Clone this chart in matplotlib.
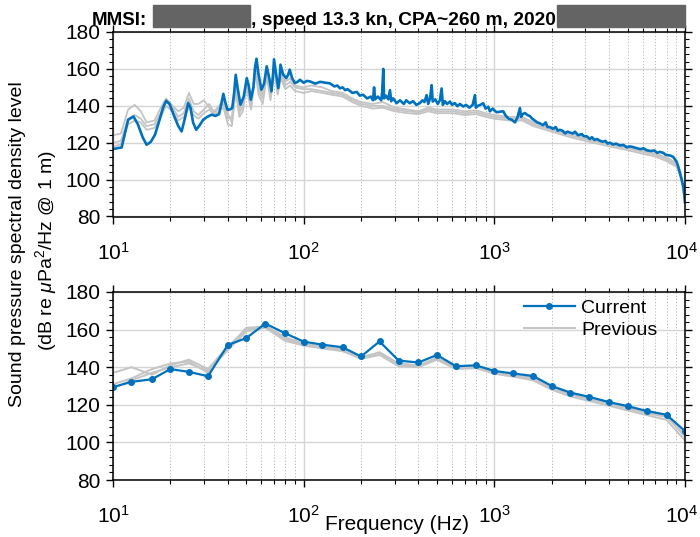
import matplotlib
matplotlib.use('Agg')
import matplotlib.pyplot as plt
import matplotlib.transforms as mtransforms
from matplotlib.ticker import LogLocator, NullFormatter, FixedLocator, MultipleLocator
from matplotlib.patches import Rectangle

plt.rcParams['font.family'] = ['Liberation Sans', 'DejaVu Sans']
plt.rcParams['mathtext.fontset'] = 'custom'
plt.rcParams['mathtext.rm'] = 'Liberation Sans'
plt.rcParams['mathtext.it'] = 'Liberation Sans:italic'

# ---------------- data: narrowband spectrum (top panel) ----------------
cur_freq = [10, 10.5, 11.1, 11.6, 12.0, 12.8, 13.5, 14.3, 15.0, 15.8, 16.6, 17.5, 18.3, 19.0, 19.8,
            21.0, 22.0, 22.9, 23.8, 24.8, 25.5, 26.3, 27.3, 28.5, 29.7, 31.2, 32.9, 34.5, 36.0, 37.0,
            37.9, 38.8, 39.8, 41.0, 42.2, 43.2, 44.0, 45.0, 46.6, 48.5, 50.3, 51.5, 52.8, 54.5, 55.6,
            56.6, 57.8, 60.0, 62.0, 64.0, 66.0, 67.8, 69.0, 69.9, 71.5, 73.6, 74.8, 75.6, 78.0, 81.1,
            83.0, 84.5, 87.0, 89.9, 93.0, 95.6, 100, 104, 108, 115, 122, 130, 137, 145, 150, 155, 160,
            165, 170, 180, 190, 197, 205, 215, 225, 231, 234, 237, 245, 255, 258, 261.5, 264, 270,
            278, 283.5, 288, 295, 307, 320, 335, 345, 360, 375, 390, 407, 420, 430, 441.6, 450, 460,
            469, 475, 490, 505, 518, 529, 537, 550, 565, 585, 600, 620, 640, 660, 687, 710, 740, 770,
            791, 800, 820, 845, 874, 900, 930, 948, 980, 1000, 1030, 1069, 1114, 1150, 1190, 1230,
            1283, 1320, 1363, 1380, 1410, 1446, 1490, 1537, 1580, 1630, 1680, 1734, 1800, 1860, 1900,
            1958, 2030, 2100, 2150, 2208, 2280, 2350, 2420, 2490, 2580, 2650, 2750, 2870, 2950, 3050,
            3170, 3250, 3350, 3450, 3578, 3700, 3820, 3930, 4037, 4200, 4350, 4557, 4750, 4950, 5150,
            5350, 5600, 5850, 6050, 6290, 6600, 6900, 7150, 7390, 7700, 7900, 8160, 8400, 8670, 8850,
            9040, 9250, 9400, 9600, 9790, 9920, 10000]
cur_level = [116.6, 117, 117.4, 126, 132.4, 134.2, 130, 123, 118.9, 120.5, 124.3, 132, 139, 142.7, 141,
             134, 129, 126.1, 133, 141.5, 139, 131, 127, 129.5, 132.4, 134, 135.2, 134.5, 135.5, 141,
             146.5, 142, 137.9, 138, 138.8, 147, 156.8, 150, 140.6, 145, 155, 151, 143.3, 150, 161,
             165.5, 158, 148.7, 152, 161.4, 155, 147.8, 156, 165.2, 158, 149.6, 155, 162.3, 157, 155,
             157, 159.6, 155, 152.3, 153, 154.1, 152.5, 153.5, 153.2, 152, 153, 152.5, 152.2, 150.5, 151, 149.5, 150,
             148.5, 149, 147, 147.5, 145.5, 146, 144, 145, 143, 150, 143.5, 145, 143, 147, 160, 144, 145.5,
             143.5, 148.5, 142.5, 144, 141.4, 143, 141, 143, 141.4, 142.5, 140.5, 141.5, 143, 142, 145.8, 141, 144,
             151.2, 142.3, 143.5, 141, 143, 149.4, 140.5, 142.5, 141, 142.3, 140.5, 141.5, 139.8, 141, 139.6, 140.5, 139, 140.5,
             145.8, 139, 140, 140.5, 141.4, 138.5, 139.5, 137, 138.5, 137.5, 136.5, 136.8, 137, 134.5, 133, 132.5,
             131, 133.5, 138.8, 134, 135.5, 136.1, 135, 134.4, 133, 132, 131, 130.5, 129.5, 131, 128.5,
             128.5, 127.5, 128.5, 126.5, 127, 126.5, 125, 126, 125.5, 125, 126, 124, 124.7, 123.5, 123.5,
             122, 123, 121.5, 122, 121.1, 120.5, 121, 119.5, 120, 119, 119.5, 118.5, 118.8, 117.5, 118,
             117.6, 117, 116.5, 117, 115.9, 115.5, 115.8, 114.5, 115, 114.5, 113.5, 113.2, 113, 112.3, 111,
             109.7, 106.5, 103.5, 100, 96.5, 92, 87.7]

prev_freq = [10, 11, 12, 13, 14, 15, 16.5, 18, 19, 20.5, 22, 23.5, 25, 26.5, 28, 30, 32, 34, 36, 38, 40,
             42, 44, 46, 48, 50, 53, 56, 58, 61, 64, 67, 70, 73, 76, 80, 85, 90, 100, 110, 125, 140, 160,
             180, 200, 230, 260, 300, 350, 400, 450, 500, 600, 700, 800, 900, 1000, 1200, 1400, 1600,
             2000, 2500, 3000, 4000, 5000, 6000, 7000, 8000, 9000, 9500, 10000]
prev_level_1 = [124, 125, 138, 140.5, 137, 131, 132, 140, 144, 140, 137, 139, 147, 141, 141, 143, 139, 137,
                140, 143, 136, 131, 149, 138, 143, 152, 142, 160, 150, 146, 158, 147, 162, 150, 158, 153,
                155, 151, 150, 151, 150, 148, 147, 144, 142, 141, 142, 139, 138, 137, 139, 138, 138, 137,
                137.5, 136, 135, 134, 134, 131, 128, 125, 123, 120, 118, 116, 114, 112, 109, 104, 89]
prev_level_2 = [120, 121, 133, 135, 133, 129, 130, 137, 142, 139, 134, 136, 144, 137, 135, 138, 141, 136,
                139, 141, 133, 134, 152, 136, 140, 153, 140, 162, 148, 144, 159, 145, 163, 148, 157, 151,
                153, 150, 149, 149, 148, 147, 146, 143, 141, 140, 140, 138, 137, 136.5, 138, 137, 137, 136,
                136.5, 135, 134, 133, 133, 130, 127, 124, 122, 119, 117, 115, 113.5, 111, 108, 103, 88]
prev_level_3 = [118, 119, 130, 132, 131, 127, 128, 135, 140, 137, 132, 134, 139, 135, 133, 136, 138, 135,
                137, 139, 130, 129, 148, 134, 137, 150, 138, 158, 146, 141, 156, 143, 160, 146, 155, 149,
                151, 148, 147, 148, 147, 146, 145, 142, 140, 138.5, 139, 137, 136, 135.5, 137, 136, 136, 135,
                135.5, 134, 133, 132, 132, 129, 126, 123, 121, 118, 116, 114, 112.5, 110, 107, 102, 87]

# ---------------- data: third-octave bands (bottom panel) ----------------
band_freq = [10, 12.5, 16, 20, 25, 31.5, 40, 50, 63, 80, 100, 125, 160, 200, 250, 315, 400, 500, 630,
             800, 1000, 1250, 1600, 2000, 2500, 3150, 4000, 5000, 6300, 8000, 10000]
band_current = [129.4, 132.2, 133.6, 139, 137.5, 135.2, 151.8, 155.5, 163.2, 158, 153.6, 152, 150.6,
                145.7, 153.7, 143.5, 142.5, 146.5, 140.5, 141, 138, 136.7, 135.3, 130, 126.5, 124.2,
                121.4, 119.3, 116.7, 114.7, 106]
band_prev_1 = [137, 140, 136, 141, 144, 139, 151, 160, 162, 156, 152.5, 151, 149.5, 145, 148, 142, 141,
               145, 140, 140, 137, 135.5, 134, 129, 125.5, 123, 120.5, 118, 115.5, 113.5, 104]
band_prev_2 = [131, 134, 139, 142, 143, 137, 150, 161, 161.5, 155, 152, 150.5, 149, 145.5, 147.5, 141.5,
               140.5, 144.5, 139.5, 140.5, 137.5, 136, 134.5, 129.5, 126.5, 124, 121.5, 119, 116.5, 114, 103]
band_prev_3 = [129, 133, 137, 140, 142, 138, 149, 159, 161, 154, 151.5, 150, 148.5, 144.5, 146.5, 140.5,
               140, 144, 139, 139.5, 136.5, 135, 133, 128, 124.5, 122, 119.5, 117, 114.5, 112, 101]

x_ticks = [10, 100, 1000, 10000]
x_ticklabels = [r'$10^{1}$', r'$10^{2}$', r'$10^{3}$', r'$10^{4}$']
y_ticks = [80, 100, 120, 140, 160, 180]

BLUE = '#0072BD'
GRAY = '#c4c4c4'

W, H = 700, 537
fig = plt.figure(figsize=(7.0, 5.37), dpi=100)


def ax_rect(l, t, r, b):
    return [l / W, 1 - b / H, (r - l) / W, (b - t) / H]


ax1 = fig.add_axes(ax_rect(113, 32, 685, 216.5))
ax2 = fig.add_axes(ax_rect(113, 292, 685, 480))

for ax in (ax1, ax2):
    ax.set_xscale('log')
    ax.set_xlim(10, 1e4)
    ax.set_ylim(80, 180)
    ax.set_yticks(y_ticks)
    ax.yaxis.set_minor_locator(MultipleLocator(4))
    ax.xaxis.set_major_locator(FixedLocator(x_ticks))
    ax.set_xticklabels(x_ticklabels)
    ax.xaxis.set_minor_locator(LogLocator(base=10, subs=range(2, 10)))
    ax.xaxis.set_minor_formatter(NullFormatter())
    ax.tick_params(which='both', direction='out', top=True, right=True, labelsize=15, color='black')
    ax.tick_params(which='major', length=5, width=1.0)
    ax.tick_params(which='minor', length=3, width=0.8)
    ax.tick_params(axis='x', which='major', pad=13)
    ax.tick_params(axis='y', which='major', pad=4)
    ax.xaxis.grid(True, which='major', color='#d5d5d5', lw=1.0, ls='-')
    ax.yaxis.grid(True, which='major', color='#d5d5d5', lw=1.0, ls='-')
    ax.xaxis.grid(True, which='minor', color='#b5b5b5', lw=0.7, ls=(0, (1.2, 2.0)))
    ax.set_axisbelow(True)
    for s in ax.spines.values():
        s.set_linewidth(1.1)
    # keep the last label inside the canvas
    last = ax.get_xticklabels()[-1]
    last.set_transform(last.get_transform() +
                       mtransforms.ScaledTranslation(-3 / 100, 0, fig.dpi_scale_trans))

# top panel
for lv in (prev_level_1, prev_level_2, prev_level_3):
    ax1.plot(prev_freq, lv, color=GRAY, lw=1.3)
ax1.plot(cur_freq, cur_level, color=BLUE, lw=1.9)

# bottom panel
for i, lv in enumerate((band_prev_1, band_prev_2, band_prev_3)):
    ax2.plot(band_freq, lv, color=GRAY, lw=1.4, label='Previous' if i == 0 else None)
ax2.plot(band_freq, band_current, color=BLUE, lw=1.6, marker='o', ms=4, label='Current')
h, l = ax2.get_legend_handles_labels()
ax2.legend([h[1], h[0]], [l[1], l[0]], loc='upper left',
           bbox_to_anchor=((524 - 113) / 572, 1 - (299 - 292) / 188),
           frameon=False, fontsize=14, handlelength=2.6, handletextpad=0.35,
           labelspacing=0.25, borderpad=0, borderaxespad=0)

# y label (two lines)
fig.text(18 / W, 1 - 244 / H, 'Sound pressure spectral density level', rotation=90,
         ha='center', va='center', fontsize=14)
fig.text(46 / W, 1 - 250 / H, r'(dB re $\mu$Pa$^2$/Hz @ 1 m)', rotation=90,
         ha='center', va='center', fontsize=14)

# x label
fig.text(397 / W, 1 - 525 / H, 'Frequency (Hz)', ha='center', va='center', fontsize=15)

# title with redacted parts
fig.text(92 / W, 1 - 25 / H, 'MMSI:', ha='left', va='baseline', fontsize=13.5, fontweight='bold')
fig.text(251 / W, 1 - 25 / H, ', speed 13.3 kn, CPA~260 m, 2020', ha='left', va='baseline',
         fontsize=13.8, fontweight='bold')
for (x0, x1) in ((153, 250), (557, 685)):
    fig.patches.append(Rectangle((x0 / W, 1 - 27 / H), (x1 - x0) / W, 22 / H,
                                 transform=fig.transFigure, color='#646464', zorder=5))

fig.savefig('out.png', dpi=100)
